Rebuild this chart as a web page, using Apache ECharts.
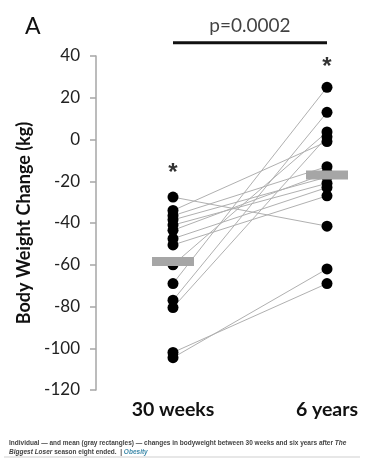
<!DOCTYPE html>
<html>
<head>
<meta charset="utf-8">
<script src="https://cdn.jsdelivr.net/npm/echarts@6/dist/echarts.min.js"></script>
<style>html,body{margin:0;padding:0;background:#fff;}#c{width:383px;height:470px;}</style>
</head>
<body>
<div id="c"></div>
<script>
// ---- data ----
var categories = ['30 weeks', '6 years'];
var weeks30 = [-27.6, -34, -36.5, -38.5, -41, -43.5, -47.5, -50.5, -60, -69, -77, -80.5, -102, -104.5];
var years6  = [-41.5, -1, -13, -18, -21, -16, -23, -27, 3.6, 25, 13, 1.3, -69, -62];
var means = [-58.5, -17];
var starValues = [-13.8, 37.1];
var pValueText = 'p=0.0002';
var bracketValue = 46.4;
var yTicks = {min: -120, max: 40, interval: 20};

var FONT = 'Lato';
var series = [];
for (var i = 0; i < weeks30.length; i++) {
  series.push({
    type: 'line', silent: true, symbol: 'none', z: 1,
    lineStyle: {color: '#b0b0b0', width: 1},
    data: [[1, weeks30[i]], [2, years6[i]]]
  });
}
var dots = [];
for (var j = 0; j < weeks30.length; j++) { dots.push([1, weeks30[j]]); dots.push([2, years6[j]]); }
series.push({type: 'scatter', symbolSize: 11, z: 3, itemStyle: {color: '#000', opacity: 1}, data: dots});
series.push({type: 'scatter', symbol: 'rect', symbolSize: [42, 9], z: 4,
  itemStyle: {color: '#a6a6a6', opacity: 1}, data: [[1, means[0]], [2, means[1]]]});
series.push({type: 'scatter', symbolSize: 1, z: 5, itemStyle: {color: 'rgba(0,0,0,0)'},
  label: {show: true, position: 'inside', formatter: '*', color: '#000', fontSize: 24, fontWeight: 'bold', fontFamily: 'Liberation Sans', offset: [0, 5]},
  data: [[1, starValues[0]], [2, starValues[1]]]});
series.push({type: 'line', symbol: 'none', clip: false, z: 5,
  lineStyle: {color: '#111', width: 3},
  data: [[1, bracketValue], [2, bracketValue]]});
series.push({type: 'scatter', symbolSize: 1, clip: false, z: 5, itemStyle: {color: 'rgba(0,0,0,0)'},
  label: {show: true, position: 'top', distance: 7, formatter: pValueText, color: '#111', fontSize: 19, fontFamily: FONT},
  data: [[1.5, bracketValue]]});

var chart = echarts.init(document.getElementById('c'), null, {renderer: 'canvas'});
chart.setOption({
  animation: false,
  backgroundColor: '#fff',
  title: [
    {text: 'A', left: 20, top: 10, textStyle: {fontSize: 23, fontWeight: 'normal', color: '#111', fontFamily: FONT}},
    {text: '{n|Individual — and mean (gray rectangles) — changes in bodyweight between 30 weeks and six years after }{i|The}\n{i|Biggest Loser}{n| season eight ended.  | }{o|Obesity}',
     left: 4, top: 434,
     textStyle: {rich: {
       n: {fontSize: 6.5, color: '#444', fontFamily: 'Liberation Sans', lineHeight: 9},
       i: {fontSize: 6.5, color: '#444', fontStyle: 'italic', fontFamily: 'Liberation Sans', lineHeight: 9},
       o: {fontSize: 6.5, color: '#3f8bab', fontStyle: 'italic', fontFamily: 'Liberation Sans', lineHeight: 9}
     }}}
  ],
  graphic: [{type: 'line', shape: {x1: 4, y1: 457, x2: 360, y2: 457}, style: {stroke: '#cfcfcf', lineWidth: 1}}],
  grid: {left: 96, top: 56, height: 334, right: 9.8},
  xAxis: {
    type: 'value', min: 0.5, max: 2.3,
    axisLine: {show: false}, axisTick: {show: false}, splitLine: {show: false},
    axisLabel: {customValues: [1, 2], formatter: function (v) { return categories[Math.round(v) - 1] || ''; },
      fontSize: 19.5, fontWeight: 'bold', color: '#111', fontFamily: FONT, margin: 10}
  },
  yAxis: {
    type: 'value', min: yTicks.min, max: yTicks.max, interval: yTicks.interval,
    name: 'Body Weight Change (kg)', nameLocation: 'middle', nameGap: 60,
    nameTextStyle: {fontSize: 18, fontWeight: 'bold', color: '#111', fontFamily: FONT},
    axisLine: {show: true, lineStyle: {color: '#a6a6a6', width: 1.5}},
    axisTick: {show: true, inside: false, length: 6, lineStyle: {color: '#a6a6a6', width: 1.5}},
    axisLabel: {fontSize: 17, color: '#222', fontFamily: FONT, margin: 16},
    splitLine: {show: false}
  },
  series: series
});
</script>
</body>
</html>
